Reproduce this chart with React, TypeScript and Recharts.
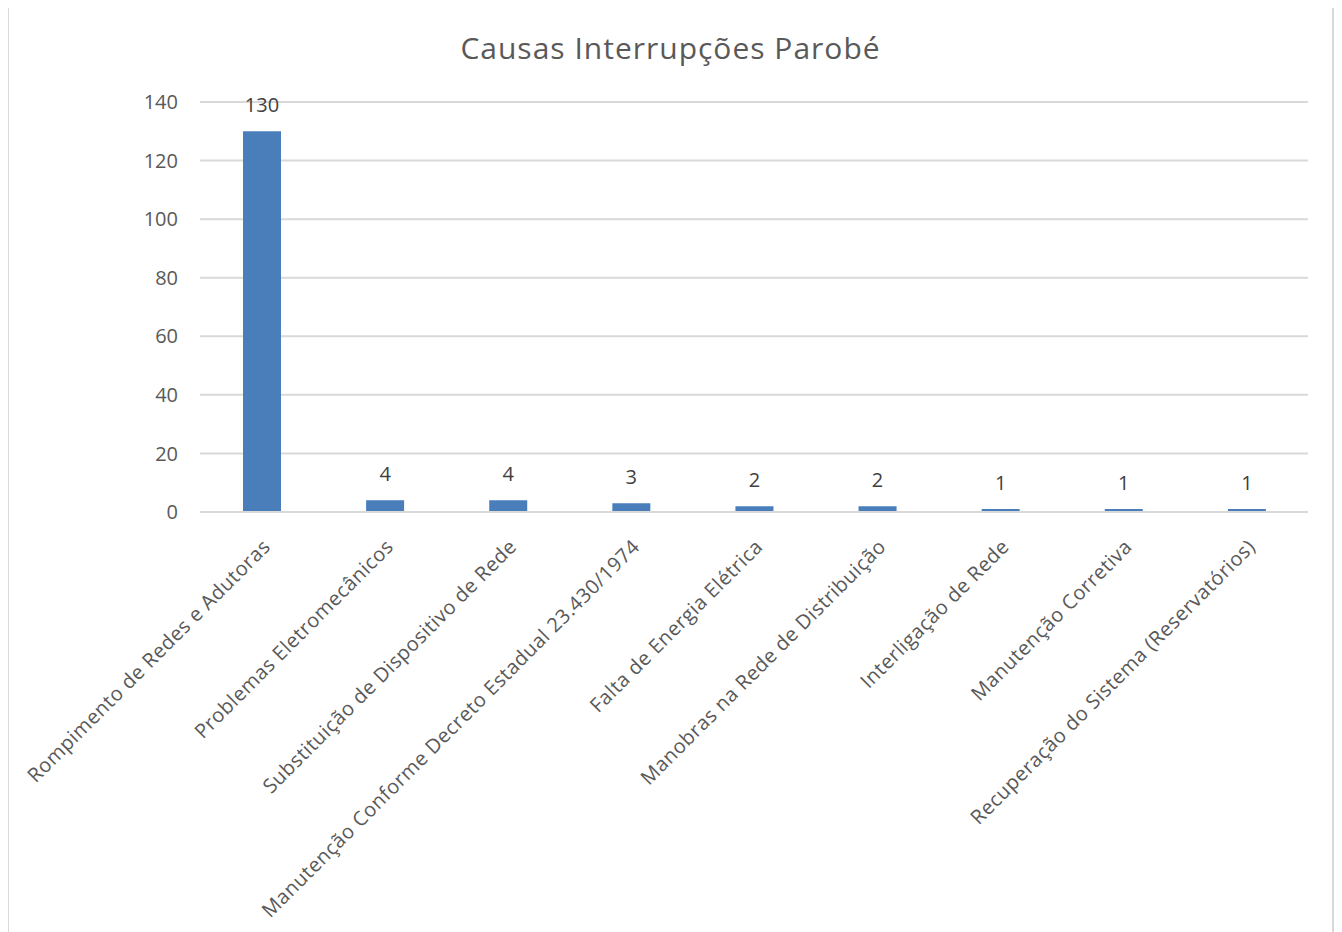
import { Bar, BarChart, CartesianGrid, LabelList, XAxis, YAxis } from "recharts";

const categories = [
  "Rompimento de Redes e Adutoras",
  "Problemas Eletromecânicos",
  "Substituição de Dispositivo de Rede",
  "Manutenção Conforme Decreto Estadual 23.430/1974",
  "Falta de Energia Elétrica",
  "Manobras na Rede de Distribuição",
  "Interligação de Rede",
  "Manutenção Corretiva",
  "Recuperação do Sistema (Reservatórios)",
];
const counts = [130, 4, 4, 3, 2, 2, 1, 1, 1];
const yTicks = [0, 20, 40, 60, 80, 100, 120, 140];

const data = categories.map((name, i) => ({ name, value: counts[i] }));

const FONT = "'Open Sans', sans-serif";

const AngledTick = (props: any) => {
  const { x, y, payload } = props;
  return (
    <g transform={`translate(${x + 10},${y + 28})`}>
      <text
        transform="rotate(-45)"
        textAnchor="end"
        fill="#595959"
        fontSize={20}
        letterSpacing={0.5}
        fontFamily={FONT}
      >
        {payload.value}
      </text>
    </g>
  );
};

const App = () => {
  return (
    <div
      style={{
        position: "relative",
        width: 1327,
        height: 935,
        marginLeft: -1,
        marginTop: -5,
        border: "2px solid #d9d9d9",
        boxSizing: "border-box",
        background: "#fff",
      }}
    >
      <div
        style={{
          position: "absolute",
          top: 22,
          left: 0,
          width: "100%",
          textAlign: "center",
          fontFamily: FONT,
          fontSize: 30,
          letterSpacing: 1,
          color: "#595959",
        }}
      >
        Causas Interrupções Parobé
      </div>
      <BarChart
        width={1323}
        height={931}
        data={data}
        margin={{ top: 97, right: 24, left: 121, bottom: 0 }}
        style={{ position: "absolute", top: 0, left: 0 }}
      >
        <CartesianGrid vertical={false} stroke="#d9d9d9" strokeWidth={2} />
        <XAxis
          dataKey="name"
          interval={0}
          height={424}
          tick={<AngledTick />}
          tickLine={false}
          axisLine={{ stroke: "#d9d9d9", strokeWidth: 2 }}
        />
        <YAxis
          domain={[0, 140]}
          ticks={yTicks}
          width={70}
          tickSize={0}
          tickMargin={22}
          axisLine={false}
          tickLine={false}
          tick={{ fill: "#595959", fontSize: 20, fontFamily: FONT }}
        />
        <Bar dataKey="value" fill="#4a7ebb" barSize={38} isAnimationActive={false}>
          <LabelList
            dataKey="value"
            position="top"
            offset={19}
            fill="#404040"
            fontSize={20}
            fontFamily={FONT}
          />
        </Bar>
      </BarChart>
    </div>
  );
};

export default App;
